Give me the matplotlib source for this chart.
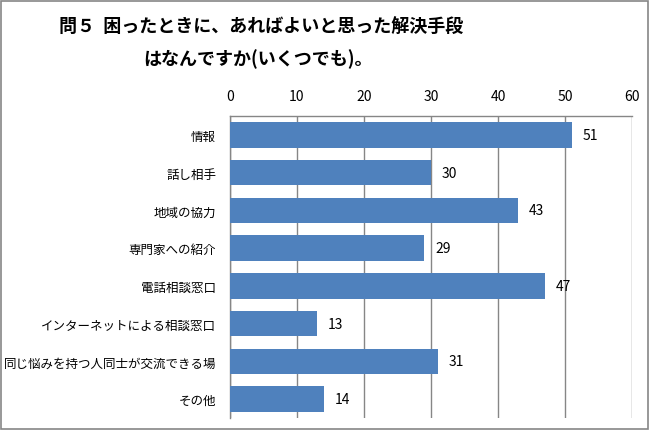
import matplotlib
matplotlib.use("Agg")
import matplotlib.pyplot as plt
from matplotlib.patches import Rectangle

plt.rcParams['font.family'] = ['Noto Sans CJK JP', 'DejaVu Sans']

categories = ["情報", "話し相手", "地域の協力", "専門家への紹介", "電話相談窓口",
              "インターネットによる相談窓口", "同じ悩みを持つ人同士が交流できる場", "その他"]
values = [51, 30, 43, 29, 47, 13, 31, 14]
xticks = [0, 10, 20, 30, 40, 50, 60]
title_lines = ["問５  困ったときに、あればよいと思った解決手段", "はなんですか(いくつでも)。"]

W, H = 650, 431
fig = plt.figure(figsize=(W / 100, H / 100), dpi=100)
ax = fig.add_axes([230 / W, 1 - 419 / H, (632 - 230) / W, (419 - 117) / H])

bar_color = "#4F81BD"
grid_color = "#868686"

y = list(range(len(categories)))
ax.barh(y, values, height=0.68, color=bar_color, zorder=3)
ax.set_ylim(len(categories) - 0.5, -0.5)
ax.set_xlim(0, 60)
ax.set_xticks(xticks)
ax.set_xticklabels([str(t) for t in xticks], fontsize=10)
ax.xaxis.tick_top()
ax.tick_params(axis='x', length=0, pad=9)
ax.set_yticks(y)
ax.set_yticklabels(categories, fontsize=9)
ax.tick_params(axis='y', length=0, pad=10)
ax.grid(axis='x', color=grid_color, linewidth=1, zorder=0)
for s in ['right', 'bottom']:
    ax.spines[s].set_visible(False)
for s in ['left', 'top']:
    ax.spines[s].set_color(grid_color)
    ax.spines[s].set_linewidth(1)

for yi, v in zip(y, values):
    ax.annotate(str(v), (v, yi), xytext=(8, 0), textcoords='offset points',
                va='center', ha='left', fontsize=10, zorder=4)

fig.text(261 / W, 1 - 27 / H, title_lines[0], ha='center', va='center', fontsize=13,
         fontweight='bold')
fig.text(258 / W, 1 - 59 / H, title_lines[1], ha='center', va='center', fontsize=13,
         fontweight='bold')

fig.patches.append(Rectangle((1 / W, 1 / H), (W - 3) / W, (H - 3) / H, transform=fig.transFigure,
                             fill=False, edgecolor=grid_color, linewidth=1.2))

fig.savefig("out.png", dpi=100)
